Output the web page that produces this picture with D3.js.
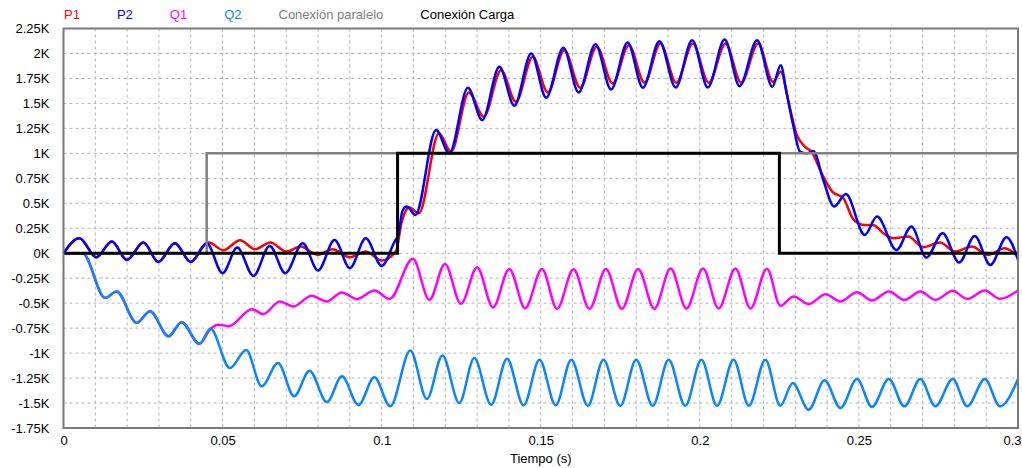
<!DOCTYPE html>
<html>
<head>
<meta charset="utf-8">
<script src="https://cdn.jsdelivr.net/npm/d3@7"></script>
<style>
  body { margin: 0; background: #fff; }
  #chart { width: 1022px; height: 468px; }
  text { font-family: "Liberation Sans", Arial, sans-serif; font-size: 13px; }
  .grid line { stroke: #b4b4b4; stroke-width: 1; stroke-dasharray: 3,3; }
  .axis path, .axis line { display: none; }
</style>
</head>
<body>
<div id="chart"></div>
<script>
/* global d3 */

// tick labels
const xTicks = [0, 0.05, 0.1, 0.15, 0.2, 0.25, 0.3];
const xGrid = d3.range(1, 30).map(i => i / 100);
const yTicks = [2250, 2000, 1750, 1500, 1250, 1000, 750, 500, 250, 0,
  -250, -500, -750, -1000, -1250, -1500, -1750];

const legendNames = ['P1', 'P2', 'Q1', 'Q2', 'Conexión paralelo', 'Conexión Carga'];

// [tiempo (s), valor]
// P1 and P2 are the same until the parallel connection
const pStart = [
  [0, 0], [0.005, 150], [0.0103, -40], [0.0152, 117], [0.0199, -67],
  [0.0251, 107], [0.0298, -87], [0.035, 100], [0.04, -87], [0.045, 100]
];

const p1Data = pStart.concat([
  [0.0457, 107], [0.0502, 30], [0.0555, 130], [0.0602, 40], [0.065, 107],
  [0.07, 17], [0.0745, 67], [0.08, -17], [0.0845, 40], [0.09, -40],
  [0.095, 17], [0.1, -73], [0.1045, 20], [0.1062, 300], [0.1087, 457],
  [0.1117, 400], [0.118, 1200], [0.1218, 1017], [0.1274, 1610], [0.1321, 1367],
  [0.1375, 1833], [0.1422, 1517], [0.1475, 1967], [0.1522, 1610], [0.1574, 2033],
  [0.1624, 1657], [0.1676, 2067], [0.1726, 1700], [0.1777, 2083], [0.1826, 1707],
  [0.1876, 2100], [0.1926, 1707], [0.1978, 2100], [0.2028, 1707], [0.2081, 2100],
  [0.213, 1707], [0.2183, 2100], [0.223, 1717], [0.2254, 1817], [0.2282, 1467],
  [0.2303, 1200], [0.233, 1067], [0.2351, 1017], [0.2383, 800], [0.2416, 617],
  [0.2451, 550], [0.2484, 333], [0.2515, 283], [0.2546, 280], [0.2577, 200],
  [0.2608, 150], [0.2655, 167], [0.2702, 60], [0.2755, 107], [0.2802, 17],
  [0.2854, 67], [0.2906, -17], [0.2958, 50], [0.3, -33]
]);

const p2Data = pStart.concat([
  [0.05, -200], [0.0546, 57], [0.0597, -227], [0.0648, 73], [0.0697, -200],
  [0.0752, 100], [0.08, -173], [0.0852, 133], [0.09, -150], [0.095, 150],
  [0.1, -127], [0.1045, 140], [0.1052, 170], [0.1065, 420], [0.1079, 467],
  [0.1106, 383], [0.1171, 1233], [0.1213, 1000], [0.1271, 1657], [0.1316, 1333],
  [0.137, 1867], [0.1417, 1477], [0.147, 2000], [0.1517, 1557], [0.1571, 2057],
  [0.1619, 1610], [0.1672, 2093], [0.1721, 1640], [0.1773, 2110], [0.1821, 1657],
  [0.1873, 2123], [0.1924, 1660], [0.1976, 2133], [0.2025, 1660], [0.2078, 2140],
  [0.2125, 1673], [0.218, 2133], [0.2228, 1667], [0.2254, 1883], [0.2272, 1617],
  [0.2293, 1290], [0.2315, 1017], [0.2335, 1000], [0.2357, 1020], [0.2388, 733],
  [0.2422, 467], [0.2459, 593], [0.2518, 183], [0.2557, 367], [0.2618, 33],
  [0.2665, 267], [0.2712, -43], [0.2763, 200], [0.2815, -93], [0.2864, 173],
  [0.2913, -117], [0.2964, 160], [0.3, -67]
]);

// Q1 and Q2 are the same until the parallel connection
const qStart = [
  [0, 0], [0.006, 0], [0.0131, -447], [0.0167, -384], [0.023, -697],
  [0.0272, -580], [0.033, -832], [0.0371, -690], [0.0427, -907], [0.0462, -757]
];

const q1Data = qStart.concat([
  [0.0485, -715], [0.052, -730], [0.0592, -560], [0.0628, -610], [0.068, -483],
  [0.0722, -533], [0.078, -427], [0.0827, -483], [0.0875, -393], [0.0922, -460],
  [0.0977, -373], [0.1025, -457], [0.1098, -55], [0.115, -467], [0.1199, -107],
  [0.1249, -507], [0.13, -140], [0.135, -543], [0.1401, -157], [0.1451, -550],
  [0.1504, -157], [0.1551, -557], [0.1603, -160], [0.1653, -557], [0.1705, -157],
  [0.1755, -557], [0.1806, -157], [0.1857, -557], [0.1908, -153], [0.1958, -553],
  [0.201, -153], [0.2059, -553], [0.2112, -153], [0.2159, -553], [0.2211, -155],
  [0.2253, -525], [0.2295, -433], [0.2342, -510], [0.2395, -410], [0.2442, -483],
  [0.2494, -390], [0.2541, -473], [0.2594, -383], [0.2643, -467], [0.2693, -383],
  [0.274, -467], [0.2795, -377], [0.284, -457], [0.2896, -373], [0.2943, -457],
  [0.3, -373]
]);

const q2Data = qStart.concat([
  [0.0523, -1150], [0.0574, -970], [0.0623, -1333], [0.0674, -1100], [0.0725, -1433],
  [0.0773, -1177], [0.0828, -1490], [0.0875, -1233], [0.0927, -1520], [0.0977, -1243],
  [0.1027, -1533], [0.109, -975], [0.1142, -1460], [0.1191, -1023], [0.1244, -1500],
  [0.1291, -1050], [0.1344, -1517], [0.1394, -1057], [0.1446, -1523], [0.1496, -1067],
  [0.1547, -1523], [0.1596, -1067], [0.1648, -1527], [0.1697, -1067], [0.175, -1527],
  [0.18, -1067], [0.1852, -1527], [0.1902, -1067], [0.1954, -1527], [0.2005, -1067],
  [0.2054, -1527], [0.2106, -1067], [0.2154, -1527], [0.2206, -1067], [0.2253, -1527],
  [0.2292, -1300], [0.2342, -1567], [0.2392, -1273], [0.2442, -1550], [0.2494, -1260],
  [0.2541, -1540], [0.2594, -1260], [0.2643, -1533], [0.2693, -1260], [0.274, -1533],
  [0.2795, -1260], [0.284, -1533], [0.2896, -1260], [0.2943, -1533], [0.3, -1260]
]);

const paraleloData = [[0, 0], [0.045, 1000], [0.3, 1000]];
const cargaData = [[0, 0], [0.105, 1000], [0.225, 0], [0.3, 0]];

function drawChart() {
  const width = 1022;
  const height = 468;
  const margins = { top: 28.5, bottom: 40, left: 63.5, right: 4 };

  const colors = ['#ff0000', '#0000ff', '#ff00ff', '#0a84ff', '#808080', '#000000'];

  const svg = d3.select('#chart').append('svg')
    .attr('width', width)
    .attr('height', height);

  const xScale = d3.scaleLinear()
    .domain([0, 0.3])
    .range([margins.left, width - margins.right]);

  const yScale = d3.scaleLinear()
    .domain([-1750, 2250])
    .range([height - margins.bottom, margins.top]);

  // dotted grid
  const grid = svg.append('g').attr('class', 'grid');

  grid.selectAll('.vgrid')
    .data(xGrid)
    .enter()
    .append('line')
    .attr('x1', d => xScale(d))
    .attr('x2', d => xScale(d))
    .attr('y1', yScale(2250))
    .attr('y2', yScale(-1750));

  grid.selectAll('.hgrid')
    .data(yTicks.slice(1, -1))
    .enter()
    .append('line')
    .attr('x1', xScale(0))
    .attr('x2', xScale(0.3))
    .attr('y1', d => yScale(d))
    .attr('y2', d => yScale(d));

  // axes
  const yAxis = d3.axisLeft(yScale)
    .tickValues(yTicks)
    .tickSize(0)
    .tickPadding(14)
    .tickFormat(d => `${d / 1000}K`);

  svg.append('g')
    .attr('class', 'axis')
    .attr('transform', `translate(${margins.left},0)`)
    .call(yAxis)
    .selectAll('text')
    .style('fill', '#000');

  const xAxis = d3.axisBottom(xScale)
    .tickValues(xTicks)
    .tickSize(0)
    .tickPadding(8)
    .tickFormat(d => d3.format('~g')(d));

  const xLabel = svg.append('g')
    .attr('class', 'axis')
    .attr('transform', `translate(0,${height - margins.bottom})`)
    .call(xAxis);

  xLabel.selectAll('text')
    .style('fill', '#000');

  // last label sits inside the window
  xLabel.selectAll('.tick text')
    .filter(d => d === 0.3)
    .style('text-anchor', 'end')
    .attr('dx', 3);

  svg.append('text')
    .attr('x', xScale(0.15))
    .attr('y', 463)
    .style('text-anchor', 'middle')
    .text('Tiempo (s)');

  // curves
  const line = d3.line()
    .x(d => xScale(d[0]))
    .y(d => yScale(d[1]))
    .curve(d3.curveMonotoneX);

  const stepLine = d3.line()
    .x(d => xScale(d[0]))
    .y(d => yScale(d[1]))
    .curve(d3.curveStepAfter);

  const lineGroup = svg.append('g').attr('class', 'lineGroup');

  [p1Data, p2Data, q1Data, q2Data].forEach((series, i) => {
    lineGroup.append('path')
      .datum(series)
      .attr('d', line)
      .style('fill', 'none')
      .style('stroke', colors[i])
      .style('stroke-width', 2.5)
      .style('stroke-linejoin', 'round');
  });

  lineGroup.append('path')
    .datum(paraleloData)
    .attr('d', stepLine)
    .style('fill', 'none')
    .style('stroke', colors[4])
    .style('stroke-width', 2.5);

  lineGroup.append('path')
    .datum(cargaData)
    .attr('d', stepLine)
    .style('fill', 'none')
    .style('stroke', colors[5])
    .style('stroke-width', 3);

  // frame
  svg.append('rect')
    .attr('x', xScale(0))
    .attr('y', yScale(2250))
    .attr('width', xScale(0.3) - xScale(0))
    .attr('height', yScale(-1750) - yScale(2250))
    .style('fill', 'none')
    .style('stroke', '#7a7a7a')
    .style('stroke-width', 2);

  // legend
  let legendX = 64;
  legendNames.forEach((name, i) => {
    const label = svg.append('text')
      .attr('x', legendX)
      .attr('y', 19)
      .style('fill', colors[i])
      .text(name);
    legendX += label.node().getComputedTextLength() + 37;
  });
}

drawChart();
</script>
</body>
</html>
